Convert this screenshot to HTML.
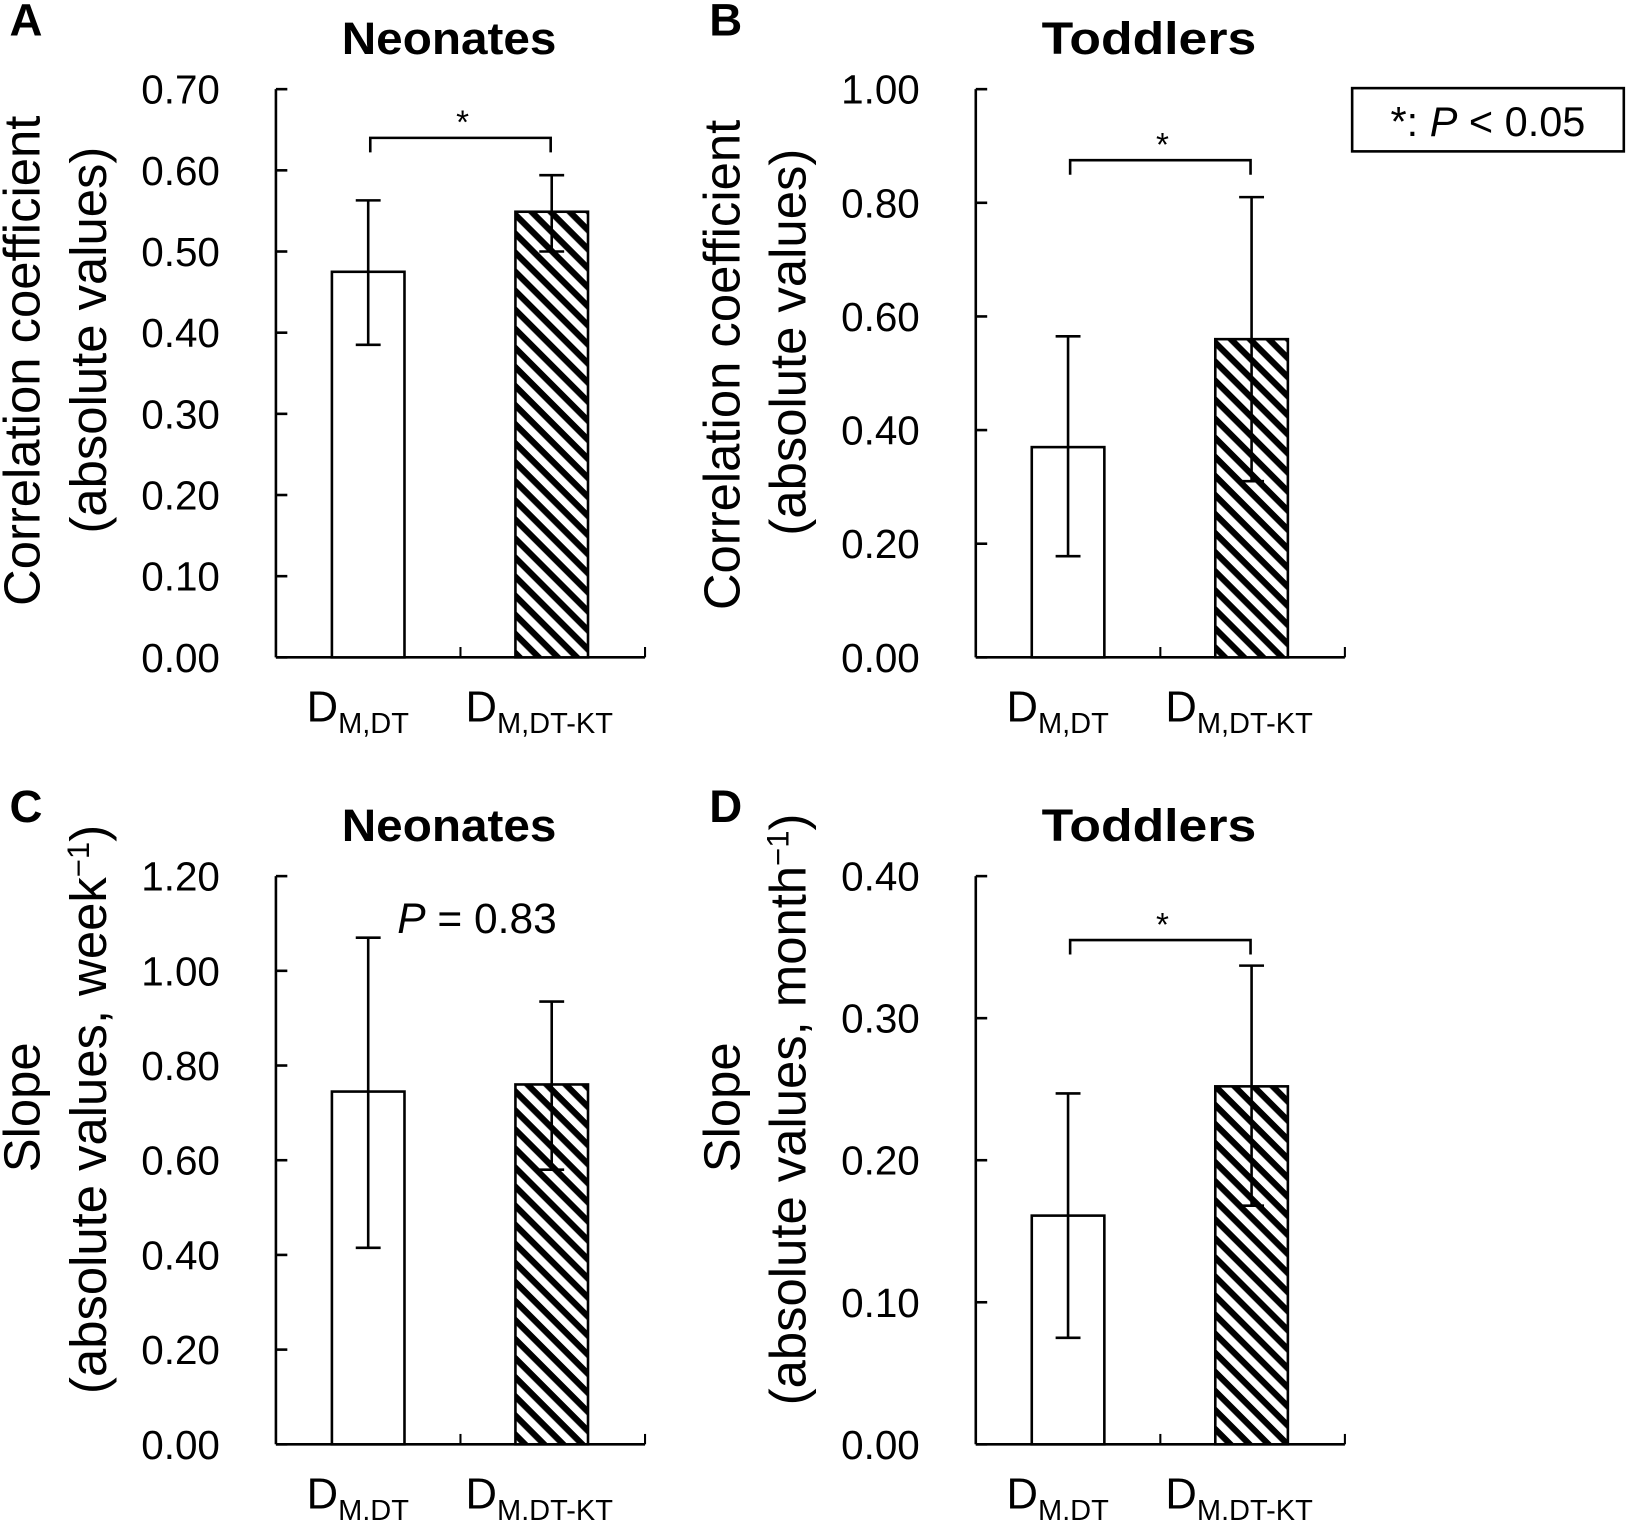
<!DOCTYPE html>
<html><head><meta charset="utf-8"><style>
html,body{margin:0;padding:0;background:#fff}
svg{display:block;font-family:"Liberation Sans",Arial,sans-serif}
</style></head><body>
<svg id="fig" width="1626" height="1520" viewBox="0 0 1568 1466" xmlns="http://www.w3.org/2000/svg">
<defs>
<pattern id="hatch" width="13" height="13" patternUnits="userSpaceOnUse" patternTransform="rotate(45)">
<rect width="13" height="13" fill="#fff"/><rect width="13" height="6" fill="#000"/>
</pattern>
</defs>
<g id="root"></g>
</svg>
<script>
const categories = ["M,DT","M,DT-KT"];
const valsA = [0.475, 0.549], loA = [0.385, 0.500], hiA = [0.563, 0.594];
const valsB = [0.37, 0.56], loB = [0.178, 0.31], hiB = [0.565, 0.81];
const valsC = [0.745, 0.76], loC = [0.415, 0.58], hiC = [1.07, 0.935];
const valsD = [0.161, 0.252], loD = [0.075, 0.168], hiD = [0.247, 0.337];
const ticksA = ["0.00","0.10","0.20","0.30","0.40","0.50","0.60","0.70"];
const ticksB = ["0.00","0.20","0.40","0.60","0.80","1.00"];
const ticksC = ["0.00","0.20","0.40","0.60","0.80","1.00","1.20"];
const ticksD = ["0.00","0.10","0.20","0.30","0.40"];
const NS="http://www.w3.org/2000/svg";
const root=document.getElementById('root');
function mk(tag,attrs,parent,text){const e=document.createElementNS(NS,tag);for(const k in attrs)e.setAttribute(k,attrs[k]);if(text!==undefined)e.textContent=text;(parent||root).appendChild(e);return e;}
function panel(o){
  const g=mk('g',{});
  
  
  const x0=o.x0, xEnd=x0+356, yTop=o.yTop, yBot=o.yTop+548;
  const ticks=o.ticks, max=parseFloat(ticks[ticks.length-1]);
  const y=v=>yBot-(v/max)*(yBot-yTop);
  const L=mk('text',{x:o.x0-257,y:yTop-52,'font-size':44,'font-weight':'bold'},g,o.letter);
   
  const T=mk('text',{x:x0+167,y:yTop-34,'font-size':44,'font-weight':'bold','text-anchor':'middle',textLength:207,lengthAdjust:'spacingAndGlyphs'},g,o.title);
   
  mk('line',{x1:x0,y1:yTop,x2:x0,y2:yBot,stroke:'#000','stroke-width':2.5},g);
  mk('line',{x1:x0,y1:yBot,x2:xEnd,y2:yBot,stroke:'#000','stroke-width':2.5},g);
  mk('line',{x1:x0+178,y1:yBot,x2:x0+178,y2:yBot-10,stroke:'#000','stroke-width':2},g);
  mk('line',{x1:xEnd,y1:yBot,x2:xEnd,y2:yBot-10,stroke:'#000','stroke-width':2},g);
  ticks.forEach(t=>{const v=parseFloat(t);
    mk('line',{x1:x0,y1:y(v),x2:x0+11,y2:y(v),stroke:'#000','stroke-width':2.5},g);
    const tl=mk('text',{x:x0-54,y:y(v)+14,'font-size':39,'text-anchor':'end'},g,t);
     
  });
  const yt=mk('g',{});
   
  g.appendChild(yt);
  mk('text',{transform:`translate(${x0-228},${o.c1}) rotate(-90)`,'font-size':49,'text-anchor':'middle'},yt,o.yl1);
  const t2=mk('text',{transform:`translate(${x0-164},${o.c2}) rotate(-90)`,'font-size':49,'text-anchor':'middle'},yt,o.yl2);
  if(o.sup){mk('tspan',{'baseline-shift':'super','font-size':30},t2,'−1');mk('tspan',{},t2,')');}
  const centers=[x0+89,x0+266];
  o.vals.forEach((v,i)=>{
    const b=mk('rect',{x:centers[i]-35,y:y(v),width:70,height:yBot-y(v),fill:i?'url(#hatch)':'#fff',stroke:'#000','stroke-width':2.5},g);
     
    const e=mk('path',{d:`M${centers[i]},${y(o.lo[i])}V${y(o.hi[i])}M${centers[i]-12},${y(o.hi[i])}h24M${centers[i]-12},${y(o.lo[i])}h24`,stroke:'#000','stroke-width':2.5,fill:'none'},g);
     
    const cl=mk('text',{x:centers[i]-(i?12:10),y:yBot+62,'font-size':42,'text-anchor':'middle'},g);
     
    mk('tspan',{},cl,'D'); mk('tspan',{'font-size':28,dy:11},cl,categories[i]);
  });
  if(o.bracket!==undefined){
    const by=y(o.bracket);
    const br=mk('path',{d:`M${x0+91},${by+14}V${by}H${x0+265}V${by+14}`,stroke:'#000','stroke-width':2.5,fill:'none'},g);
     
    const s=mk('text',{x:x0+180,y:by-4,'font-size':32,'text-anchor':'middle'},g,'*');
     
  }
  if(o.ptext){
    const p=mk('text',{x:x0+117,y:yTop+55,'font-size':41},g);
     
    mk('tspan',{'font-style':'italic'},p,'P'); mk('tspan',{},p,' = 0.83');
  }
}
panel({letter:'A',title:'Neonates',x0:266,yTop:86,ticks:ticksA,vals:valsA,lo:loA,hi:hiA,bracket:0.64,yl1:'Correlation coefficient',yl2:'(absolute values)',c1:348,c2:328});
panel({letter:'B',title:'Toddlers',x0:941,yTop:86,ticks:ticksB,vals:valsB,lo:loB,hi:hiB,bracket:0.875,yl1:'Correlation coefficient',yl2:'(absolute values)',c1:352,c2:330});
panel({letter:'C',title:'Neonates',x0:266,yTop:845,ticks:ticksC,vals:valsC,lo:loC,hi:hiC,ptext:true,yl1:'Slope',yl2:'(absolute values, week',sup:true,c1:1068,c2:1070});
panel({letter:'D',title:'Toddlers',x0:941,yTop:845,ticks:ticksD,vals:valsD,lo:loD,hi:hiD,bracket:0.355,yl1:'Slope',yl2:'(absolute values, month',sup:true,c1:1068,c2:1070});
const lg=mk('g',{});
 
mk('rect',{x:1304,y:85,width:262,height:61,fill:'#fff',stroke:'#000','stroke-width':2.5},lg);
const lt=mk('text',{x:1435,y:131,'font-size':40,'text-anchor':'middle'},lg);
mk('tspan',{},lt,'*: '); mk('tspan',{'font-style':'italic'},lt,'P'); mk('tspan',{},lt,' < 0.05');
</script>
</body></html>
